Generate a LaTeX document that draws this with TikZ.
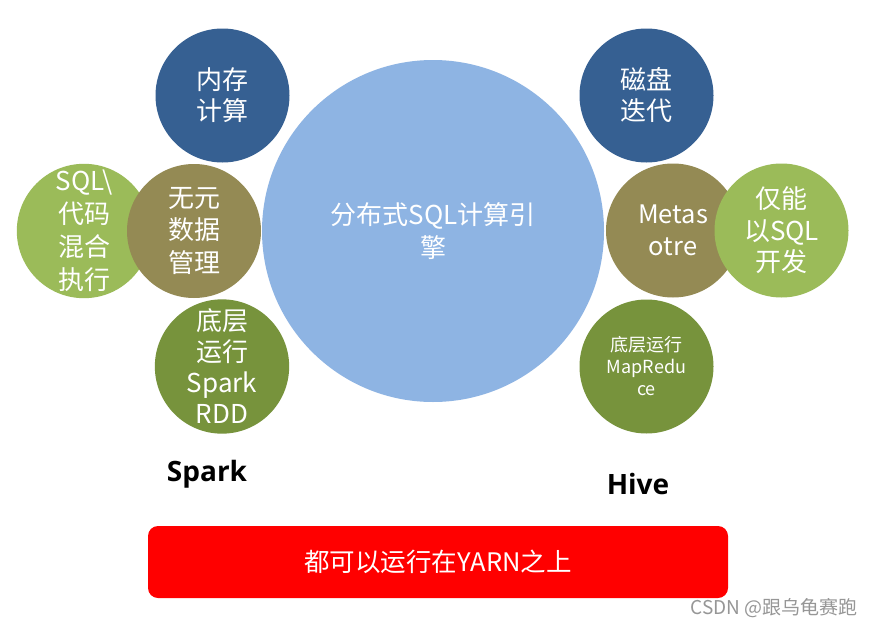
\documentclass[tikz,border=0pt]{standalone}
\usepackage{fontspec}
\setmainfont{Noto Sans CJK SC}
\newfontfamily\latbold{Open Sans}[UprightFont={Open Sans Bold}]
\definecolor{dblue}{RGB}{54,96,146}
\definecolor{olive}{RGB}{148,138,84}
\definecolor{lgreen}{RGB}{155,187,89}
\definecolor{dgreen}{RGB}{119,147,60}
\definecolor{lblue}{RGB}{142,180,227}
\definecolor{wmgray}{RGB}{150,150,150}
\tikzset{
  bub/.style={circle,inner sep=0pt,minimum size=134pt,text=white,align=center},
  bigfont/.style={font=\fontsize{26}{31}\selectfont},
  tag/.style={font=\latbold\fontsize{28}{30}\selectfont,text=black},
}
\begin{document}
\begin{tikzpicture}[x=1pt,y=-1pt]
\useasboundingbox (0,0) rectangle (873,629);
\fill[white] (0,0) rectangle (873,629);
% big circle
\node[circle,fill=lblue,inner sep=0pt,minimum size=342pt,text=white,align=center,
  font=\fontsize{26}{33}\selectfont] (core) at (433,231) {分布式SQL计算引\\擎};
% left side
\node[bub,fill=dblue,bigfont] (mem) at (222.5,95.5) {内存\\计算};
\node[bub,fill=lgreen,font=\fontsize{26}{33}\selectfont] (mix) at (84,231) {SQL\textbackslash\\代码\\混合\\执行};
\node[bub,fill=olive,font=\fontsize{26}{32.5}\selectfont] (meta0) at (194,231) {无元\\数据\\管理};
\node[bub,fill=dgreen,bigfont] (rdd) at (222,366.5) {底层\\运行\\Spark\\RDD};
% right side
\node[bub,fill=dblue,bigfont] (disk) at (646.5,95.5) {磁盘\\迭代};
\node[bub,fill=olive,font=\fontsize{25.5}{32}\selectfont] (meta) at (673,230.5) {Metas\\otre};
\node[bub,fill=lgreen,font=\fontsize{26}{31.5}\selectfont] (sqlonly) at (781.5,230.5) {仅能\\以SQL\\开发};
\node[bub,fill=dgreen,font=\fontsize{18}{22}\selectfont] (mr) at (646.5,366.5) {底层运行\\MapRedu\\ce};
% labels
\node[tag] (spark) at (207,474) {Spark};
\node[tag] (hive) at (638,484) {Hive};
% red bar
\node[draw=none,fill=red,rounded corners=10pt,minimum width=580pt,minimum height=72pt,
  text=white,font=\fontsize{25.5}{28}\selectfont] (yarn) at (438,562) {都可以运行在YARN之上};
\node[text=wmgray,font=\fontsize{19}{20}\selectfont,anchor=east,inner sep=0pt] (wm) at (858,608) {CSDN @跟乌龟赛跑};
\end{tikzpicture}
\end{document}
